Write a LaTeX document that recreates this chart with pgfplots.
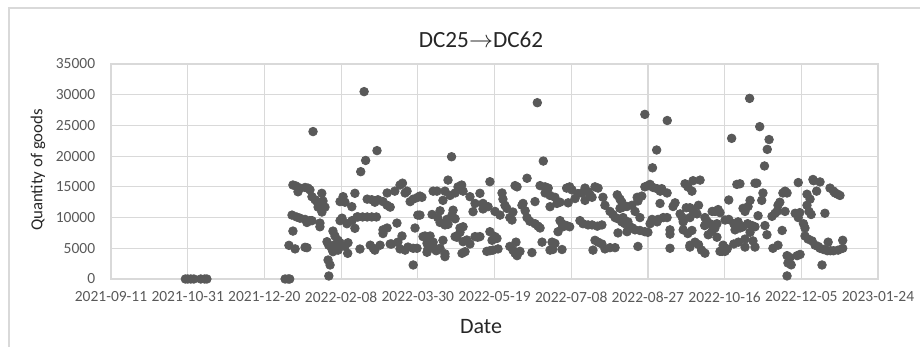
\documentclass[border=0pt]{standalone}
\usepackage{pgfplots}
\pgfplotsset{compat=1.18}
\usepackage{fontspec}
\setmainfont{Carlito}
\definecolor{gridc}{HTML}{D9D9D9}
\definecolor{tickc}{HTML}{595959}
\definecolor{dotc}{HTML}{595959}
\begin{document}
\begin{tikzpicture}
\useasboundingbox (0,0) rectangle (460pt,173.5pt);
\draw[gridc, line width=0.6pt] (4.5pt,0) -- (4.5pt,169.5pt) -- (460pt,169.5pt);
\begin{axis}[at={(55.5pt,34pt)}, anchor=south west, scale only axis,
  width=383.5pt, height=107.5pt,
  xmin=0, xmax=500, ymin=0, ymax=35000,
  xtick={0,50,...,500},
  xticklabels={2021-09-11,2021-10-31,2021-12-20,2022-02-08,2022-03-30,2022-05-19,2022-07-08,2022-08-27,2022-10-16,2022-12-05,2023-01-24},
  ytick={0,5000,...,35000},
  scaled y ticks=false,
  /pgf/number format/1000 sep={},
  /pgf/number format/assume math mode=true,
  grid=major, grid style={gridc, line width=0.6pt},
  axis line style={gridc, line width=0.6pt},
  major tick length=0pt,
  tick label style={font=\fontsize{7.75}{9.3}\selectfont, text=tickc},
  x tick label style={yshift=-2.8pt},
  y tick label style={xshift=-4.4pt},
  clip=false]
\addplot[only marks, mark=*, mark size=2.15pt, mark options={fill=dotc, draw=dotc}] table {
48.5 0
50 0
52 0
54 0
58.5 0
61 0
62.5 0
113.5 0
115.5 0
116.5 0
118.6 15300
120.6 15140
121.9 14200
123.2 14800
118 10400
121 10100
118.6 7800
116 5480
120 4900
123.2 9900
126.5 14900
128.4 14800
129.7 14500
131 13400
133 12900
134.3 12600
135 11700
137.4 13950
138.2 12700
139.5 11700
137.5 10900
126.5 9700
129.7 9500
127.7 9200
131 9500
136.2 9100
136.2 8500
126.5 5160
127.7 5100
131.7 24000
140.8 6070
141.9 5500
144 4900
141.5 3090
142.8 2280
142 490
144.7 7800
146 7000
148 6300
146 5600
148 4700
144.7 4450
149.3 5900
152.5 5300
149.3 12600
151.3 13400
152.5 12500
150.6 9900
153.8 9000
149.3 9500
154.3 4180
154.5 5900
157 11770
159 13950
159 8250
157.1 9500
160.4 10100
162.3 4880
162.8 17470
165 30500
166 19300
173.4 20900
161 10100
164 10100
167 10100
170 10100
173 10100
167 13000
170 12900
174 12900
172 12500
177.3 12600
180 12000
182 11700
180 14000
169 5500
171 5000
175.4 5500
172 4700
177.3 8000
180 8300
177.3 7400
182 5700
183 5700
186.4 9100
185 14300
188.4 15300
190 15600
187 6000
189.7 7000
188.4 4900
191.7 14000
193 14300
195 12600
197 13000
201.4 13500
191.7 4700
193.6 5200
197 5000
197 2280
198.2 8300
200 10400
199.5 5000
200 13300
202.7 13300
201.4 10400
203.4 6900
204.7 7000
206 5800
206.6 4900
208 5800
206 4350
209.3 10500
210 14300
212.5 14300
211.2 4900
214.5 5000
216.4 6300
217.7 3640
219 9700
219.7 8900
219.7 16100
221 13600
214.5 11100
213 10000
216.4 12800
217.7 14300
214.5 9200
217.7 8800
208 7000
210 6000
212 4600
217.7 4100
222 19900
223 11200
224.3 14000
226.2 15000
225.5 6800
227.5 8300
222.3 10400
224.3 9800
224.3 6900
227.5 7600
228.6 15300
229.5 14300
229.5 8500
229.5 6070
232 6350
228.8 4180
230.8 4450
234 13400
237.3 12300
240.5 13950
236 10960
237.3 6900
240.5 6900
234 5700
239 6800
242.5 12300
245.8 11770
242.5 11400
247 7700
248.4 6300
251.6 6600
250.3 6900
245 4500
247 4600
249 4700
252.3 4900
247 15840
254.9 14000
255.5 13000
256.8 12000
258 11500
253.6 10400
250.3 11000
260 10000
261.4 9600
262 10900
263.4 15200
264.7 15000
271.2 16400
267.9 12000
268.6 12300
271.2 10000
273 9400
276.4 9000
278.4 8600
279.7 8300
260 5300
262 4700
263.4 4200
264.7 3800
266.6 4500
264 6000
274.4 4300
276.4 12600
279.7 15200
270 11100
277.9 28700
283 15000
285 14800
283 14000
286.2 13600
289.4 13300
286.2 11770
281 6000
287.5 6000
289.4 5800
286.2 4700
288 4800
294 4800
281.8 19200
292.7 9500
294 9000
294.6 8500
297 8700
299 8500
291.4 7700
297 14800
299 15000
300.5 14500
298 12400
302.5 13100
304.4 13900
292.7 12500
290.7 12300
305.7 9500
307.7 9000
311 8800
313.6 8800
317 8600
320 8800
307 14000
309 14800
311 14200
312.3 13700
315.5 15000
317.5 14800
309 12800
313.6 13300
315.5 6300
317.5 6000
320 5700
322 4900
325.3 5100
328.6 5100
314.2 4700
320.7 13300
322 12000
330 13700
331.8 13000
333 12500
325.3 11000
327.2 10500
328.6 10000
330.5 9800
333.8 10000
331.8 11500
333.8 11700
336.4 11800
339.6 12000
330.5 7500
333 9300
335 9000
337 9300
336.4 7700
338.3 8500
340 8300
341.6 8000
344.8 7900
348 7700
350 7600
343.5 5300
344.8 10000
341.6 11000
343.5 12700
343 13300
346 13500
348 15000
350 15200
351.4 15400
353.4 14900
356 14700
358 14300
348 26800
353 18100
355.7 21000
352.7 9700
356.6 9700
360 10000
362.5 10000
351.4 9000
356 9300
357.9 12300
362.6 25800
359 14700
362.5 14000
364.4 8000
364.4 5000
364.4 7300
366.4 11800
367.7 12400
371 10600
372.4 10000
373 9300
373 8000
375 11600
377.4 11600
374.2 15500
376 15000
376 7400
377.4 5500
377.4 5200
379.4 16000
384 16100
378.7 14300
383 12000
379.4 11200
382 10600
377.4 10000
380.7 6000
383 5600
378.7 7900
385 4700
387.2 4200
387.2 10000
388.5 9400
390.5 9000
389.3 7200
391.9 7800
393.7 8300
395 6800
391.9 11000
393.7 11000
395.8 11300
397 10800
387 8700
395 9000
397 4500
398.4 4500
400.3 4500
401.7 4900
399 5500
402.7 12860
404.6 22900
400.3 9600
402.7 9700
406 9000
408.8 9300
412 8500
415 9000
406 5700
409 6000
413.3 5200
408 15400
410 15500
412 11500
413.3 11000
416.6 12800
415.3 11800
413.3 6500
416.6 7600
416.3 29400
406.8 8000
410 8300
418.5 6200
419.8 5200
419.8 15600
421 15600
417.9 8700
419.8 8500
421.8 10300
422.9 24800
426 18400
427.8 21100
429 22700
424.2 12800
425 14000
426.3 8700
427.6 7200
430.9 10200
432.9 10700
434.2 11000
434.8 12000
436 12500
438 14000
431.5 5000
434.8 5500
437.5 7900
439.4 14300
440.7 14000
439.4 11000
440.7 3800
441.3 2600
443.4 2300
440.7 500
442.6 3500
446 10700
448 10000
449 10800
451.4 9000
452.4 8300
448 15700
447.3 3800
449.2 4000
453.7 13800
455.7 13000
458 16000
455 11000
456.4 10500
452.4 7000
454.4 6500
457 6200
457.6 16200
462.2 15800
460 14300
459 5500
461 5300
462.2 5000
464.5 4800
467 4600
469 4600
471 4600
474 4700
477 5000
467.5 6000
477 6300
463.5 2280
465.4 10700
468.7 14800
471 14300
473.7 13800
475.2 13600
472 14000
453.7 12000
};
\end{axis}
\node[font=\fontsize{11.6}{13}\selectfont, text=black!85] at (240.5pt,153.5pt) {DC25$\rightarrow$DC62};
\node[font=\fontsize{8.4}{10}\selectfont, text=black!85, rotate=90] at (19pt,88.5pt) {Quantity of goods};
\node[font=\fontsize{11}{12}\selectfont, text=black!85] at (240.5pt,10pt) {Date};
\end{tikzpicture}
\end{document}
